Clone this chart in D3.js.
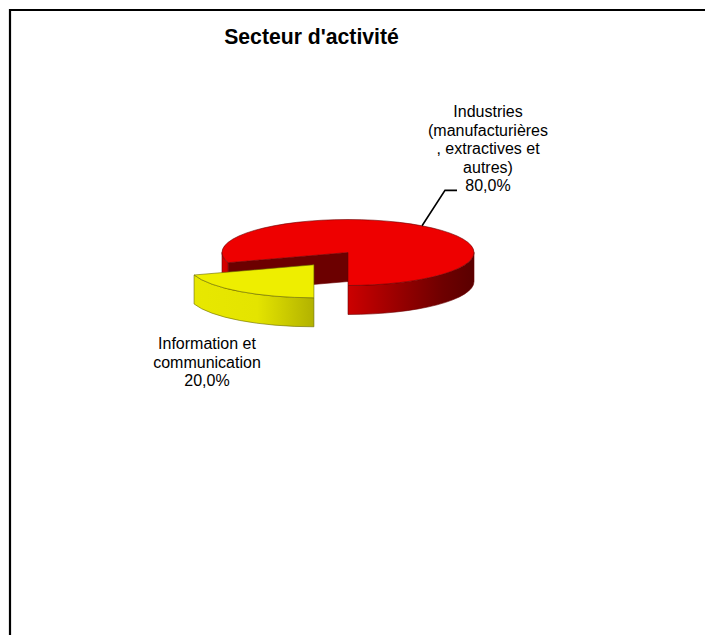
<!DOCTYPE html>
<html><head><meta charset="utf-8">
<script src="https://cdn.jsdelivr.net/npm/d3@7"></script>
<style>
body{margin:0;background:#fff;}
svg{display:block;font-family:"Liberation Sans",Arial,sans-serif;}
</style>
</head><body>
<svg id="chart" width="705" height="635"></svg>
<script>
// ---- data ----
const chartTitle = "Secteur d'activité";
const categories = ["Industries (manufacturières, extractives et autres)", "Information et communication"];
const values = [80, 20];
const labelLines = [["Industries", "(manufacturières", ", extractives et", "autres)"], ["Information et", "communication"]];
const percentLabels = ["80,0%", "20,0%"];

// ---- layout / style ----
const W = 705, H = 635;
const cx = 348, cy = 252.5, rx = 126, ry = 33, depth = 29;
const explode = [0, 58];
const deg = Math.PI / 180;
const topColor = d3.scaleOrdinal().domain(categories).range(["#ee0000", "#eeee00"]);
const strokeColor = d3.scaleOrdinal().domain(categories).range(["#6a0000", "#6a6a00"]);

const svg = d3.select("#chart");
const defs = svg.append("defs");

// border (open to right/bottom like the reference)
svg.append("path").attr("d", `M10,${H + 5} L10,10 L${W + 5},10`)
  .attr("fill", "none").attr("stroke", "#000").attr("stroke-width", 2.2);

svg.append("text").attr("x", 311.5).attr("y", 44).attr("text-anchor", "middle")
  .attr("font-weight", "bold").attr("font-size", 21.2).text(chartTitle);

const pie = d3.pie().sort(null).value(d => d.v)
  .startAngle(-108 * deg).endAngle(252 * deg);
const arcs = pie(categories.map((c, i) => ({ c, v: values[i], i })));

function centerOf(a) {
  const m = (a.startAngle + a.endAngle) / 2, d = explode[a.index];
  return [cx + d * Math.sin(m), cy - d * (ry / rx) * Math.cos(m)];
}
function P(c, a, z) { return [c[0] + rx * Math.sin(a), c[1] - ry * Math.cos(a) + z]; }
function arcCmd(c, a0, a1, z, sweep) {
  const p = sweep ? P(c, a1, z) : P(c, a0, z);
  const large = Math.abs(a1 - a0) > Math.PI ? 1 : 0;
  return `A${rx},${ry} 0 ${large} ${sweep} ${p[0]},${p[1]}`;
}
function topPath(c, a0, a1) {
  const s = P(c, a0, 0);
  return `M${c[0]},${c[1]} L${s[0]},${s[1]} ${arcCmd(c, a0, a1, 0, 1)} Z`;
}
function sidePath(c, s, e) {
  const p0 = P(c, s, 0), p1 = P(c, e, depth);
  return `M${p0[0]},${p0[1]} ${arcCmd(c, s, e, 0, 1)} L${p1[0]},${p1[1]} ${arcCmd(c, s, e, depth, 0)} Z`;
}
function facePath(c, a) {
  const e = P(c, a, 0);
  return `M${c[0]},${c[1]} L${e[0]},${e[1]} L${e[0]},${e[1] + depth} L${c[0]},${c[1] + depth} Z`;
}
// visible (front) parts of the outer side
function frontRanges(a0, a1) {
  const out = [];
  [[90 * deg, 270 * deg], [-270 * deg, -90 * deg], [450 * deg, 630 * deg]].forEach(([f0, f1]) => {
    const s = Math.max(a0, f0), e = Math.min(a1, f1);
    if (e > s + 1e-6) out.push([s, e]);
  });
  return out;
}

// gradients
function grad(id, x1, x2, stops) {
  const g = defs.append("linearGradient").attr("id", id).attr("gradientUnits", "userSpaceOnUse")
    .attr("x1", x1).attr("x2", x2).attr("y1", 0).attr("y2", 0);
  stops.forEach(([o, c]) => g.append("stop").attr("offset", o).attr("stop-color", c));
}
const c0 = centerOf(arcs[0]), c1 = centerOf(arcs[1]);
grad("gRed", c0[0], c0[0] + rx, [[0, "#cc0000"], [0.45, "#920000"], [0.75, "#6e0000"], [1, "#5a0000"]]);
grad("gRedL", c0[0] - rx, c0[0] - rx + 12, [[0, "#d80000"], [1, "#c40000"]]);
grad("gYel", c1[0] - rx, c1[0], [[0, "#e8e800"], [0.55, "#e4e400"], [1, "#b2b200"]]);

const gPie = svg.append("g");
// red slice
{
  const a = arcs[0], c = c0;
  gPie.append("path").attr("d", facePath(c, a.startAngle)).attr("fill", "#6c0000")
    .attr("stroke", strokeColor(a.data.c)).attr("stroke-width", 0.6);
  frontRanges(a.startAngle, a.endAngle).forEach(([s, e]) => {
    gPie.append("path").attr("d", sidePath(c, s, e))
      .attr("fill", s < 0 ? "url(#gRedL)" : "url(#gRed)")
      .attr("stroke", strokeColor(a.data.c)).attr("stroke-width", 0.6);
  });
  gPie.append("path").attr("d", topPath(c, a.startAngle, a.endAngle)).attr("fill", topColor(a.data.c))
    .attr("stroke", strokeColor(a.data.c)).attr("stroke-width", 0.6);
}
// yellow slice
{
  const a = arcs[1], c = c1;
  frontRanges(a.startAngle, a.endAngle).forEach(([s, e]) => {
    gPie.append("path").attr("d", sidePath(c, s, e)).attr("fill", "url(#gYel)")
      .attr("stroke", strokeColor(a.data.c)).attr("stroke-width", 0.6);
  });
  gPie.append("path").attr("d", topPath(c, a.startAngle, a.endAngle)).attr("fill", topColor(a.data.c))
    .attr("stroke", strokeColor(a.data.c)).attr("stroke-width", 0.6);
}

// labels
const labelPos = [{ x: 488, y: 117 }, { x: 207, y: 349 }];
const lh = 18.6;
arcs.forEach((a, i) => {
  const t = svg.append("text").attr("text-anchor", "middle").attr("font-size", 16).attr("fill", "#000");
  const lines = labelLines[i].concat([percentLabels[i]]);
  lines.forEach((l, k) => t.append("tspan").attr("x", labelPos[i].x).attr("y", labelPos[i].y + k * lh).text(l));
});
// leader line for the large slice
{
  const a = arcs[0], m = (a.startAngle + a.endAngle) / 2;
  const p = P(c0, m, 0);
  const ly = labelPos[0].y + 4 * lh - 1;
  svg.append("path").attr("d", d3.line()([p, [445, ly], [457, ly]]))
    .attr("fill", "none").attr("stroke", "#000").attr("stroke-width", 1.6);
}
</script>
</body></html>
